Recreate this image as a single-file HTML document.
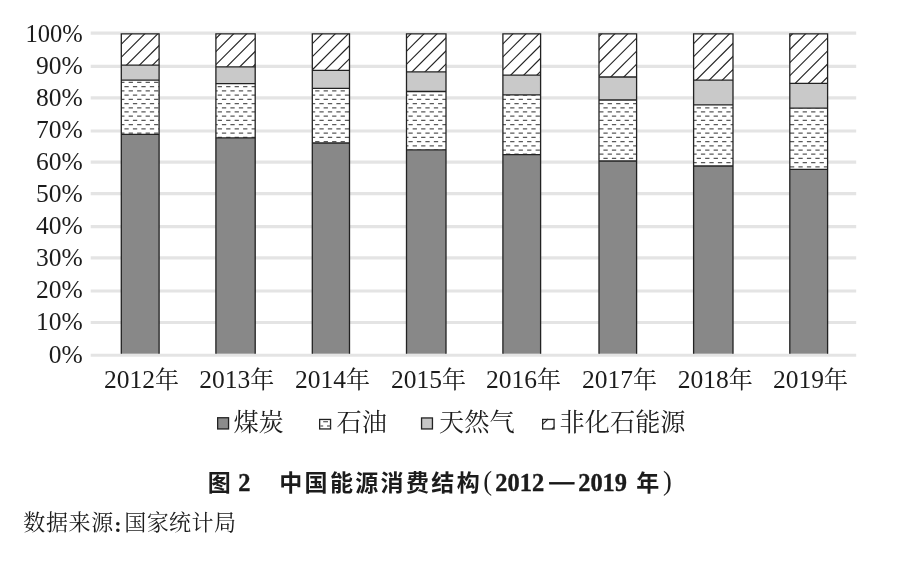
<!DOCTYPE html>
<html lang="zh-CN"><head><meta charset="utf-8"><title>图 2 中国能源消费结构(2012—2019 年)</title>
<style>
html,body{margin:0;padding:0;background:#fff;}
body{width:899px;height:567px;overflow:hidden;}
svg{display:block;will-change:transform}
text{fill:#1c1c1c}
.ax{font-family:"Liberation Serif","Noto Serif CJK SC",serif;font-size:25.5px}
.ax .cn{font-size:24px}
.lg{font-family:"Liberation Serif","Noto Serif CJK SC",serif;font-size:25.2px}
.cap{font-family:"Liberation Serif","Noto Sans CJK SC",sans-serif;font-weight:bold;font-size:23px;fill:#111}
.cap .n{font-family:"Liberation Serif",serif;font-size:24.4px;stroke:#111;stroke-width:.35px}
.cap .p{font-family:"Liberation Serif",serif;font-size:26.5px;font-weight:normal}
.cap .d{stroke:#111;stroke-width:.8px}
.src{font-family:"Liberation Serif","Noto Serif CJK SC",serif;font-size:22px}
</style></head><body>
<svg width="899" height="567" viewBox="0 0 899 567">
<defs>
<clipPath id="oil"><rect x="121.3" y="80.1" width="37.8" height="54.2"/><rect x="215.9" y="83.6" width="39.3" height="54.3"/><rect x="312.3" y="88.3" width="37.2" height="54.7"/><rect x="406.5" y="91.5" width="39.5" height="58.4"/><rect x="502.9" y="94.9" width="37.7" height="59.7"/><rect x="599.0" y="100.0" width="37.6" height="61.0"/><rect x="693.6" y="104.9" width="39.4" height="61.1"/><rect x="789.8" y="108.2" width="37.8" height="61.1"/></clipPath>
</defs>
<rect width="899" height="567" fill="#fff"/>

<g stroke="#e4e4e4" stroke-width="3.1">
<line x1="90.7" y1="355.30" x2="856.2" y2="355.30"/>
<line x1="90.7" y1="322.50" x2="856.2" y2="322.50"/>
<line x1="90.7" y1="291.00" x2="856.2" y2="291.00"/>
<line x1="90.7" y1="257.90" x2="856.2" y2="257.90"/>
<line x1="90.7" y1="226.60" x2="856.2" y2="226.60"/>
<line x1="90.7" y1="193.60" x2="856.2" y2="193.60"/>
<line x1="90.7" y1="162.10" x2="856.2" y2="162.10"/>
<line x1="90.7" y1="131.00" x2="856.2" y2="131.00"/>
<line x1="90.7" y1="97.90" x2="856.2" y2="97.90"/>
<line x1="90.7" y1="66.40" x2="856.2" y2="66.40"/>
<line x1="90.7" y1="33.10" x2="856.2" y2="33.10"/>
</g>
<g>
<rect x="121.3" y="134.30" width="37.8" height="219.40" fill="#888888"/>
<rect x="121.3" y="80.10" width="37.8" height="54.20" fill="#fff"/>
<rect x="121.3" y="65.20" width="37.8" height="14.90" fill="#c9c9c9"/>
<rect x="121.3" y="33.80" width="37.8" height="31.40" fill="#fff"/>
<clipPath id="c0"><rect x="121.3" y="33.80" width="37.8" height="31.40"/></clipPath>
<g clip-path="url(#c0)" stroke="#222222" stroke-width="1.15">
<line x1="85.25" y1="67.20" x2="120.65" y2="31.80"/>
<line x1="98.30" y1="67.20" x2="133.70" y2="31.80"/>
<line x1="111.35" y1="67.20" x2="146.75" y2="31.80"/>
<line x1="124.40" y1="67.20" x2="159.80" y2="31.80"/>
<line x1="137.45" y1="67.20" x2="172.85" y2="31.80"/>
<line x1="150.50" y1="67.20" x2="185.90" y2="31.80"/>
<line x1="163.55" y1="67.20" x2="198.95" y2="31.80"/>
</g>
</g>
<g>
<rect x="215.9" y="137.90" width="39.3" height="215.80" fill="#888888"/>
<rect x="215.9" y="83.60" width="39.3" height="54.30" fill="#fff"/>
<rect x="215.9" y="66.80" width="39.3" height="16.80" fill="#c9c9c9"/>
<rect x="215.9" y="33.80" width="39.3" height="33.00" fill="#fff"/>
<clipPath id="c1"><rect x="215.9" y="33.80" width="39.3" height="33.00"/></clipPath>
<g clip-path="url(#c1)" stroke="#222222" stroke-width="1.15">
<line x1="172.55" y1="68.80" x2="209.55" y2="31.80"/>
<line x1="185.60" y1="68.80" x2="222.60" y2="31.80"/>
<line x1="198.65" y1="68.80" x2="235.65" y2="31.80"/>
<line x1="211.70" y1="68.80" x2="248.70" y2="31.80"/>
<line x1="224.75" y1="68.80" x2="261.75" y2="31.80"/>
<line x1="237.80" y1="68.80" x2="274.80" y2="31.80"/>
<line x1="250.85" y1="68.80" x2="287.85" y2="31.80"/>
<line x1="263.90" y1="68.80" x2="300.90" y2="31.80"/>
</g>
</g>
<g>
<rect x="312.3" y="143.00" width="37.2" height="210.70" fill="#888888"/>
<rect x="312.3" y="88.30" width="37.2" height="54.70" fill="#fff"/>
<rect x="312.3" y="70.30" width="37.2" height="18.00" fill="#c9c9c9"/>
<rect x="312.3" y="33.80" width="37.2" height="36.50" fill="#fff"/>
<clipPath id="c2"><rect x="312.3" y="33.80" width="37.2" height="36.50"/></clipPath>
<g clip-path="url(#c2)" stroke="#222222" stroke-width="1.15">
<line x1="270.65" y1="72.30" x2="311.15" y2="31.80"/>
<line x1="283.70" y1="72.30" x2="324.20" y2="31.80"/>
<line x1="296.75" y1="72.30" x2="337.25" y2="31.80"/>
<line x1="309.80" y1="72.30" x2="350.30" y2="31.80"/>
<line x1="322.85" y1="72.30" x2="363.35" y2="31.80"/>
<line x1="335.90" y1="72.30" x2="376.40" y2="31.80"/>
<line x1="348.95" y1="72.30" x2="389.45" y2="31.80"/>
</g>
</g>
<g>
<rect x="406.5" y="149.90" width="39.5" height="203.80" fill="#888888"/>
<rect x="406.5" y="91.50" width="39.5" height="58.40" fill="#fff"/>
<rect x="406.5" y="71.80" width="39.5" height="19.70" fill="#c9c9c9"/>
<rect x="406.5" y="33.80" width="39.5" height="38.00" fill="#fff"/>
<clipPath id="c3"><rect x="406.5" y="33.80" width="39.5" height="38.00"/></clipPath>
<g clip-path="url(#c3)" stroke="#222222" stroke-width="1.15">
<line x1="357.85" y1="73.80" x2="399.85" y2="31.80"/>
<line x1="370.90" y1="73.80" x2="412.90" y2="31.80"/>
<line x1="383.95" y1="73.80" x2="425.95" y2="31.80"/>
<line x1="397.00" y1="73.80" x2="439.00" y2="31.80"/>
<line x1="410.05" y1="73.80" x2="452.05" y2="31.80"/>
<line x1="423.10" y1="73.80" x2="465.10" y2="31.80"/>
<line x1="436.15" y1="73.80" x2="478.15" y2="31.80"/>
<line x1="449.20" y1="73.80" x2="491.20" y2="31.80"/>
</g>
</g>
<g>
<rect x="502.9" y="154.60" width="37.7" height="199.10" fill="#888888"/>
<rect x="502.9" y="94.90" width="37.7" height="59.70" fill="#fff"/>
<rect x="502.9" y="75.10" width="37.7" height="19.80" fill="#c9c9c9"/>
<rect x="502.9" y="33.80" width="37.7" height="41.30" fill="#fff"/>
<clipPath id="c4"><rect x="502.9" y="33.80" width="37.7" height="41.30"/></clipPath>
<g clip-path="url(#c4)" stroke="#222222" stroke-width="1.15">
<line x1="456.55" y1="77.10" x2="501.85" y2="31.80"/>
<line x1="469.60" y1="77.10" x2="514.90" y2="31.80"/>
<line x1="482.65" y1="77.10" x2="527.95" y2="31.80"/>
<line x1="495.70" y1="77.10" x2="541.00" y2="31.80"/>
<line x1="508.75" y1="77.10" x2="554.05" y2="31.80"/>
<line x1="521.80" y1="77.10" x2="567.10" y2="31.80"/>
<line x1="534.85" y1="77.10" x2="580.15" y2="31.80"/>
<line x1="547.90" y1="77.10" x2="593.20" y2="31.80"/>
</g>
</g>
<g>
<rect x="599.0" y="161.00" width="37.6" height="192.70" fill="#888888"/>
<rect x="599.0" y="100.00" width="37.6" height="61.00" fill="#fff"/>
<rect x="599.0" y="77.00" width="37.6" height="23.00" fill="#c9c9c9"/>
<rect x="599.0" y="33.80" width="37.6" height="43.20" fill="#fff"/>
<clipPath id="c5"><rect x="599.0" y="33.80" width="37.6" height="43.20"/></clipPath>
<g clip-path="url(#c5)" stroke="#222222" stroke-width="1.15">
<line x1="556.55" y1="79.00" x2="603.75" y2="31.80"/>
<line x1="569.60" y1="79.00" x2="616.80" y2="31.80"/>
<line x1="582.65" y1="79.00" x2="629.85" y2="31.80"/>
<line x1="595.70" y1="79.00" x2="642.90" y2="31.80"/>
<line x1="608.75" y1="79.00" x2="655.95" y2="31.80"/>
<line x1="621.80" y1="79.00" x2="669.00" y2="31.80"/>
<line x1="634.85" y1="79.00" x2="682.05" y2="31.80"/>
</g>
</g>
<g>
<rect x="693.6" y="166.00" width="39.4" height="187.70" fill="#888888"/>
<rect x="693.6" y="104.90" width="39.4" height="61.10" fill="#fff"/>
<rect x="693.6" y="80.20" width="39.4" height="24.70" fill="#c9c9c9"/>
<rect x="693.6" y="33.80" width="39.4" height="46.40" fill="#fff"/>
<clipPath id="c6"><rect x="693.6" y="33.80" width="39.4" height="46.40"/></clipPath>
<g clip-path="url(#c6)" stroke="#222222" stroke-width="1.15">
<line x1="641.95" y1="82.20" x2="692.35" y2="31.80"/>
<line x1="655.00" y1="82.20" x2="705.40" y2="31.80"/>
<line x1="668.05" y1="82.20" x2="718.45" y2="31.80"/>
<line x1="681.10" y1="82.20" x2="731.50" y2="31.80"/>
<line x1="694.15" y1="82.20" x2="744.55" y2="31.80"/>
<line x1="707.20" y1="82.20" x2="757.60" y2="31.80"/>
<line x1="720.25" y1="82.20" x2="770.65" y2="31.80"/>
<line x1="733.30" y1="82.20" x2="783.70" y2="31.80"/>
</g>
</g>
<g>
<rect x="789.8" y="169.30" width="37.8" height="184.40" fill="#888888"/>
<rect x="789.8" y="108.20" width="37.8" height="61.10" fill="#fff"/>
<rect x="789.8" y="83.30" width="37.8" height="24.90" fill="#c9c9c9"/>
<rect x="789.8" y="33.80" width="37.8" height="49.50" fill="#fff"/>
<clipPath id="c7"><rect x="789.8" y="33.80" width="37.8" height="49.50"/></clipPath>
<g clip-path="url(#c7)" stroke="#222222" stroke-width="1.15">
<line x1="741.05" y1="85.30" x2="794.55" y2="31.80"/>
<line x1="754.10" y1="85.30" x2="807.60" y2="31.80"/>
<line x1="767.15" y1="85.30" x2="820.65" y2="31.80"/>
<line x1="780.20" y1="85.30" x2="833.70" y2="31.80"/>
<line x1="793.25" y1="85.30" x2="846.75" y2="31.80"/>
<line x1="806.30" y1="85.30" x2="859.80" y2="31.80"/>
<line x1="819.35" y1="85.30" x2="872.85" y2="31.80"/>
<line x1="832.40" y1="85.30" x2="885.90" y2="31.80"/>
</g>
</g>
<g clip-path="url(#oil)" stroke="#5a5a5a" stroke-width="1.25" stroke-dasharray="4.3 4.178">
<line x1="-2.76" y1="78.18" x2="860" y2="78.18"/>
<line x1="-7.00" y1="82.40" x2="860" y2="82.40"/>
<line x1="-2.76" y1="86.62" x2="860" y2="86.62"/>
<line x1="-7.00" y1="90.85" x2="860" y2="90.85"/>
<line x1="-2.76" y1="95.07" x2="860" y2="95.07"/>
<line x1="-7.00" y1="99.30" x2="860" y2="99.30"/>
<line x1="-2.76" y1="103.52" x2="860" y2="103.52"/>
<line x1="-7.00" y1="107.75" x2="860" y2="107.75"/>
<line x1="-2.76" y1="111.97" x2="860" y2="111.97"/>
<line x1="-7.00" y1="116.20" x2="860" y2="116.20"/>
<line x1="-2.76" y1="120.42" x2="860" y2="120.42"/>
<line x1="-7.00" y1="124.65" x2="860" y2="124.65"/>
<line x1="-2.76" y1="128.87" x2="860" y2="128.87"/>
<line x1="-7.00" y1="133.10" x2="860" y2="133.10"/>
<line x1="-2.76" y1="137.32" x2="860" y2="137.32"/>
<line x1="-7.00" y1="141.55" x2="860" y2="141.55"/>
<line x1="-2.76" y1="145.77" x2="860" y2="145.77"/>
<line x1="-7.00" y1="150.00" x2="860" y2="150.00"/>
<line x1="-2.76" y1="154.22" x2="860" y2="154.22"/>
<line x1="-7.00" y1="158.45" x2="860" y2="158.45"/>
<line x1="-2.76" y1="162.67" x2="860" y2="162.67"/>
<line x1="-7.00" y1="166.90" x2="860" y2="166.90"/>
<line x1="-2.76" y1="171.12" x2="860" y2="171.12"/>
</g>
<g fill="none" stroke="#222222" stroke-width="1.3">
<path d="M121.3 353.70V33.80H159.1V353.70"/>
<line x1="121.3" y1="134.30" x2="159.1" y2="134.30"/>
<line x1="121.3" y1="80.10" x2="159.1" y2="80.10"/>
<line x1="121.3" y1="65.20" x2="159.1" y2="65.20"/>
</g>
<g fill="none" stroke="#222222" stroke-width="1.3">
<path d="M215.9 353.70V33.80H255.2V353.70"/>
<line x1="215.9" y1="137.90" x2="255.2" y2="137.90"/>
<line x1="215.9" y1="83.60" x2="255.2" y2="83.60"/>
<line x1="215.9" y1="66.80" x2="255.2" y2="66.80"/>
</g>
<g fill="none" stroke="#222222" stroke-width="1.3">
<path d="M312.3 353.70V33.80H349.5V353.70"/>
<line x1="312.3" y1="143.00" x2="349.5" y2="143.00"/>
<line x1="312.3" y1="88.30" x2="349.5" y2="88.30"/>
<line x1="312.3" y1="70.30" x2="349.5" y2="70.30"/>
</g>
<g fill="none" stroke="#222222" stroke-width="1.3">
<path d="M406.5 353.70V33.80H446.0V353.70"/>
<line x1="406.5" y1="149.90" x2="446.0" y2="149.90"/>
<line x1="406.5" y1="91.50" x2="446.0" y2="91.50"/>
<line x1="406.5" y1="71.80" x2="446.0" y2="71.80"/>
</g>
<g fill="none" stroke="#222222" stroke-width="1.3">
<path d="M502.9 353.70V33.80H540.6V353.70"/>
<line x1="502.9" y1="154.60" x2="540.6" y2="154.60"/>
<line x1="502.9" y1="94.90" x2="540.6" y2="94.90"/>
<line x1="502.9" y1="75.10" x2="540.6" y2="75.10"/>
</g>
<g fill="none" stroke="#222222" stroke-width="1.3">
<path d="M599.0 353.70V33.80H636.6V353.70"/>
<line x1="599.0" y1="161.00" x2="636.6" y2="161.00"/>
<line x1="599.0" y1="100.00" x2="636.6" y2="100.00"/>
<line x1="599.0" y1="77.00" x2="636.6" y2="77.00"/>
</g>
<g fill="none" stroke="#222222" stroke-width="1.3">
<path d="M693.6 353.70V33.80H733.0V353.70"/>
<line x1="693.6" y1="166.00" x2="733.0" y2="166.00"/>
<line x1="693.6" y1="104.90" x2="733.0" y2="104.90"/>
<line x1="693.6" y1="80.20" x2="733.0" y2="80.20"/>
</g>
<g fill="none" stroke="#222222" stroke-width="1.3">
<path d="M789.8 353.70V33.80H827.6V353.70"/>
<line x1="789.8" y1="169.30" x2="827.6" y2="169.30"/>
<line x1="789.8" y1="108.20" x2="827.6" y2="108.20"/>
<line x1="789.8" y1="83.30" x2="827.6" y2="83.30"/>
</g>
<text class="ax" x="82.7" y="362.5" text-anchor="end">0%</text>
<text class="ax" x="82.7" y="330.4" text-anchor="end">10%</text>
<text class="ax" x="82.7" y="298.4" text-anchor="end">20%</text>
<text class="ax" x="82.7" y="266.3" text-anchor="end">30%</text>
<text class="ax" x="82.7" y="234.3" text-anchor="end">40%</text>
<text class="ax" x="82.7" y="202.2" text-anchor="end">50%</text>
<text class="ax" x="82.7" y="170.1" text-anchor="end">60%</text>
<text class="ax" x="82.7" y="138.1" text-anchor="end">70%</text>
<text class="ax" x="82.7" y="106.0" text-anchor="end">80%</text>
<text class="ax" x="82.7" y="74.0" text-anchor="end">90%</text>
<text class="ax" x="82.7" y="41.9" text-anchor="end" textLength="57.3" lengthAdjust="spacingAndGlyphs">100%</text>
<text class="ax" x="141.6" y="387.5" text-anchor="middle">2012<tspan class="cn">年</tspan></text>
<text class="ax" x="236.7" y="387.5" text-anchor="middle">2013<tspan class="cn">年</tspan></text>
<text class="ax" x="332.6" y="387.5" text-anchor="middle">2014<tspan class="cn">年</tspan></text>
<text class="ax" x="428.4" y="387.5" text-anchor="middle">2015<tspan class="cn">年</tspan></text>
<text class="ax" x="523.5" y="387.5" text-anchor="middle">2016<tspan class="cn">年</tspan></text>
<text class="ax" x="619.6" y="387.5" text-anchor="middle">2017<tspan class="cn">年</tspan></text>
<text class="ax" x="715.2" y="387.5" text-anchor="middle">2018<tspan class="cn">年</tspan></text>
<text class="ax" x="810.6" y="387.5" text-anchor="middle">2019<tspan class="cn">年</tspan></text>
<rect x="217.65" y="417.75" width="10.9" height="11.2" fill="#8c8c8c" stroke="#222222" stroke-width="1.3"/>
<text class="lg" x="233.4" y="430.8">煤炭</text>
<rect x="319.65" y="419.45" width="10.9" height="9.5" fill="#fff" stroke="#222222" stroke-width="1.3"/>
<g stroke="#5a5a5a" stroke-width="1.2"><line x1="323.2" y1="421.7" x2="328" y2="421.7"/><line x1="320.3" y1="426" x2="323.2" y2="426"/><line x1="327" y1="426" x2="330.5" y2="426"/></g>
<text class="lg" x="336.6" y="430.8">石油</text>
<rect x="421.55" y="417.95" width="10.9" height="11.0" fill="#c6c6c6" stroke="#222222" stroke-width="1.3"/>
<text class="lg" x="439.0" y="430.8">天然气</text>
<rect x="542.65" y="419.45" width="11.4" height="9.5" fill="#fff" stroke="#222222" stroke-width="1.3"/>
<g stroke="#222222" stroke-width="1.1"><line x1="542.8" y1="424.2" x2="548.2" y2="419"/><line x1="551.8" y1="429" x2="554.2" y2="426.8"/></g>
<text class="lg" x="559.6" y="430.8">非化石能源</text>
<g class="cap" xml:space="preserve"><text x="207.8" y="491.0">图 </text><text class="n" x="238.3" y="490.6">2</text><text x="253.85" y="491.0" letter-spacing="2.35">　中国能源消费结构</text><text class="p" x="483.2" y="490.2">(</text><text class="n" x="495.3" y="490.6">2012</text><text class="d" x="549.7" y="489.3" textLength="24.2" lengthAdjust="spacingAndGlyphs">—</text><text class="n" x="578.2" y="490.6">2019 </text><text x="636.2" y="491.0">年</text><text class="p" x="662.9" y="490.2">)</text></g>
<text class="src" y="529.8" letter-spacing="0.65"><tspan x="23.3">数据来源</tspan><tspan x="114.3" y="531.7" font-weight="bold">:</tspan><tspan x="124.2" y="529.8" letter-spacing="0.45">国家统计局</tspan></text>
</svg>
</body></html>
